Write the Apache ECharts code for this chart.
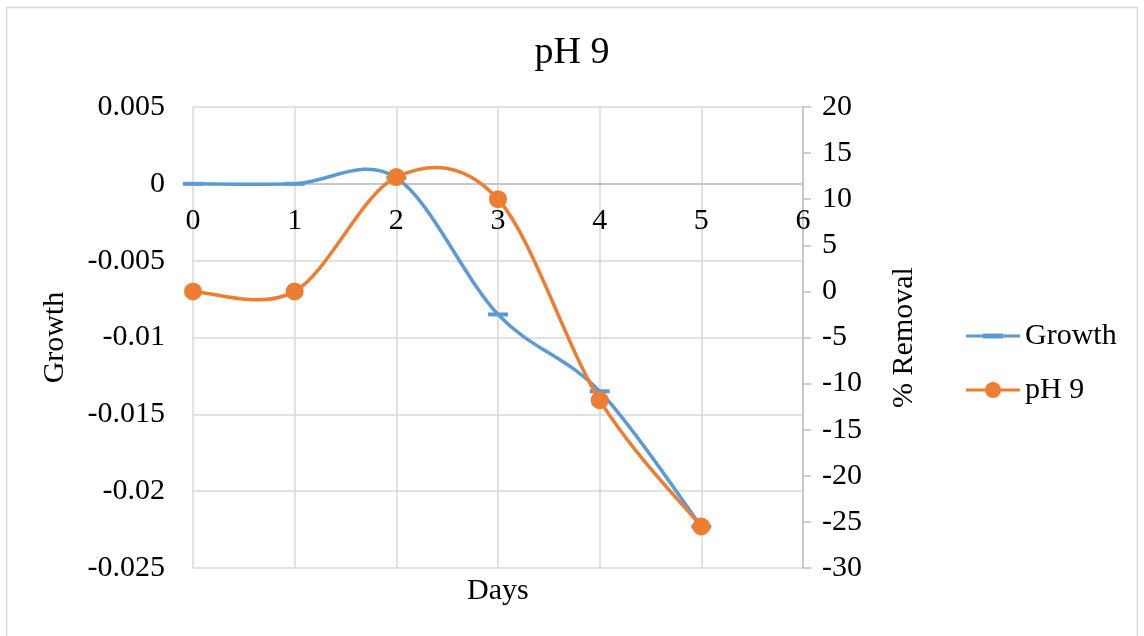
<!DOCTYPE html>
<html><head><meta charset="utf-8">
<script src="https://cdn.jsdelivr.net/npm/echarts@6/dist/echarts.min.js"></script>
<style>html,body{margin:0;padding:0;background:#fff}#c{width:1144px;height:636px}</style>
</head><body><div id="c"></div>
<script>
const days = [0, 1, 2, 3, 4, 5];
const growth = [0, 0, 0.0004, -0.0085, -0.0135, -0.0223];
const removal = [0, 0, 12.4, 10, -11.8, -25.5];
const leftTicks = { min: -0.025, max: 0.005, interval: 0.005 };
const rightTicks = { min: -30, max: 20, interval: 5 };
const xTicks = { min: 0, max: 6, interval: 1 };

const F = '"Liberation Serif", "Times New Roman", serif';
const FS = 30;
const BLUE = '#5b9bd5', ORANGE = '#ed7d31';

// Excel-like Catmull-Rom smoothing, computed from axis-mapped coordinates
function makeRender(values, kind, color) {
  return function (params, api) {
    const n = values.length;
    const pts = values.map((v, i) => api.coord([days[i], v]));
    const i = params.dataIndex;
    const children = [];
    if (i < n - 1) {
      const p0 = pts[Math.max(i - 1, 0)], p1 = pts[i], p2 = pts[i + 1], p3 = pts[Math.min(i + 2, n - 1)];
      children.push({
        type: 'bezierCurve',
        shape: {
          x1: p1[0], y1: p1[1], x2: p2[0], y2: p2[1],
          cpx1: p1[0] + (p2[0] - p0[0]) / 6, cpy1: p1[1] + (p2[1] - p0[1]) / 6,
          cpx2: p2[0] - (p3[0] - p1[0]) / 6, cpy2: p2[1] - (p3[1] - p1[1]) / 6
        },
        style: { fill: null, stroke: color, lineWidth: 3.5 }
      });
    }
    const p = pts[i];
    if (kind === 'dash') {
      children.push({ type: 'rect', shape: { x: p[0] - 10, y: p[1] - 2, width: 20, height: 4 }, style: { fill: color } });
    } else {
      children.push({ type: 'circle', shape: { cx: p[0], cy: p[1], r: 9 }, style: { fill: color } });
    }
    return { type: 'group', children };
  };
}

const chart = echarts.init(document.getElementById('c'));
chart.setOption({
  backgroundColor: '#fff',
  animation: false,
  title: [
    { text: 'pH 9', left: 'center', top: 34, padding: 0, textStyle: { fontFamily: F, fontSize: 38, fontWeight: 'normal', color: '#000' } },
    { text: 'Days', left: 467, top: 576, padding: 0, textStyle: { fontFamily: F, fontSize: FS, fontWeight: 'normal', color: '#000' } }
  ],
  graphic: [{ type: 'rect', shape: { x: 6.5, y: 7.5, width: 1131, height: 640 }, style: { fill: 'none', stroke: '#d9d9d9', lineWidth: 1.5 }, silent: true }],
  legend: {
    orient: 'vertical', left: 961, top: 316, itemGap: 24, itemWidth: 54, itemHeight: 17,
    textStyle: { fontFamily: F, fontSize: FS, color: '#000' },
    data: [
      { name: 'Growth', icon: 'path://M0,7 L54,7 L54,10 L0,10 Z M17,6 L37,6 L37,11 L17,11 Z' },
      { name: 'pH 9', icon: 'path://M0,7 L54,7 L54,10 L0,10 Z M27,0.5 A8,8 0 1 1 27,16.5 A8,8 0 1 1 27,0.5 Z' }
    ]
  },
  grid: { left: 193, right: 341, top: 107, bottom: 68, containLabel: false },
  xAxis: {
    type: 'value', min: xTicks.min, max: xTicks.max, interval: xTicks.interval,
    position: 'bottom', offset: -384,
    axisLine: { show: true, onZero: false, lineStyle: { color: '#bfbfbf', width: 1.5 } },
    axisTick: { show: false },
    axisLabel: { fontFamily: F, fontSize: FS, color: '#000', margin: 22 },
    splitLine: { show: true, lineStyle: { color: '#d9d9d9', width: 1.5 } }
  },
  yAxis: [
    {
      type: 'value', min: leftTicks.min, max: leftTicks.max, interval: leftTicks.interval,
      name: 'Growth', nameLocation: 'middle', nameGap: 123, nameRotate: 90,
      nameTextStyle: { fontFamily: F, fontSize: FS, color: '#000' },
      axisLine: { show: false }, axisTick: { show: false },
      axisLabel: { fontFamily: F, fontSize: FS, color: '#000', margin: 28, formatter: v => String(Math.round(v * 1000) / 1000) },
      splitLine: { show: true, lineStyle: { color: '#d9d9d9', width: 1.5 } }
    },
    {
      type: 'value', position: 'right', min: rightTicks.min, max: rightTicks.max, interval: rightTicks.interval,
      name: '% Removal', nameLocation: 'middle', nameGap: 86, nameRotate: 90,
      nameTextStyle: { fontFamily: F, fontSize: FS, color: '#000' },
      axisLine: { show: true, lineStyle: { color: '#bfbfbf', width: 1.5 } },
      axisTick: { show: true, length: 8, lineStyle: { color: '#bfbfbf', width: 1.5 } },
      axisLabel: { fontFamily: F, fontSize: FS, color: '#000', margin: 19 },
      splitLine: { show: false }
    }
  ],
  series: [
    {
      name: 'Growth', type: 'custom', yAxisIndex: 0, clip: false,
      data: days.map((d, i) => [d, growth[i]]),
      encode: { x: 0, y: 1 },
      renderItem: makeRender(growth, 'dash', BLUE),
      itemStyle: { color: BLUE }, z: 2
    },
    {
      name: 'pH 9', type: 'custom', yAxisIndex: 1, clip: false,
      data: days.map((d, i) => [d, removal[i]]),
      encode: { x: 0, y: 1 },
      renderItem: makeRender(removal, 'circle', ORANGE),
      itemStyle: { color: ORANGE }, z: 3
    }
  ]
});
</script></body></html>
